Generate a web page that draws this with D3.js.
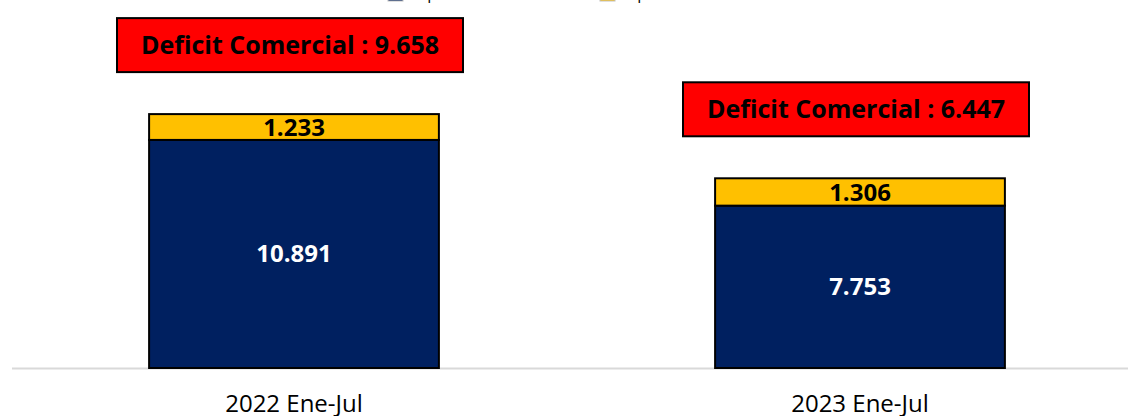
<!DOCTYPE html>
<html>
<head>
<meta charset="utf-8">
<script src="https://cdn.jsdelivr.net/npm/d3@7"></script>
<style>
  body { margin: 0; background: #fff; }
  svg { display: block; font-family: "Open Sans", sans-serif; }
</style>
</head>
<body>
<div id="chart"></div>
<script>
// Datos (millones)
const periodos = ["2022 Ene-Jul", "2023 Ene-Jul"];
const importaciones = [10891, 7753];
const exportaciones = [1233, 1306];
const deficit = [9658, 6447];
const series = ["Importaciones", "Exportaciones"];

const W = 1128, H = 416;
const fmt = v => d3.format(",")(v).replace(/,/g, ".");

const svg = d3.select("#chart").append("svg")
    .attr("width", W)
    .attr("height", H);

const x = d3.scaleBand()
    .domain(periodos)
    .range([11, 1143])
    .paddingInner(0.488)
    .paddingOuter(0.244);

const y = d3.scaleLinear()
    .domain([0, 17000])
    .range([368, 12]);

const color = d3.scaleOrdinal().domain(series).range(["#002060", "#ffc000"]);

// Leyenda (cortada en la parte superior, como en el original)
const leg = svg.append("g");
const legX = [388, 600];
series.forEach((s, i) => {
    leg.append("rect")
        .attr("x", legX[i]).attr("y", -14)
        .attr("width", 15).attr("height", 15)
        .attr("fill", color(s))
        .attr("stroke", "#bfbfbf");
    leg.append("text")
        .attr("x", legX[i] + 20).attr("y", -1)
        .attr("font-size", 16)
        .attr("fill", "#000")
        .text(s);
});

// Eje
svg.append("line")
    .attr("x1", 12).attr("x2", W)
    .attr("y1", y(0) + 0.5).attr("y2", y(0) + 0.5)
    .attr("stroke", "#d9d9d9")
    .attr("stroke-width", 2);

const g = svg.append("g");

// Importaciones (base)
g.selectAll(".imp")
    .data(periodos)
    .join("rect")
    .attr("x", d => x(d))
    .attr("y", (d, i) => y(importaciones[i]))
    .attr("width", x.bandwidth())
    .attr("height", (d, i) => y(0) - y(importaciones[i]))
    .attr("fill", color("Importaciones"))
    .attr("stroke", "#000")
    .attr("stroke-width", 2);

// Exportaciones (encima)
g.selectAll(".exp")
    .data(periodos)
    .join("rect")
    .attr("x", d => x(d))
    .attr("y", (d, i) => y(importaciones[i] + exportaciones[i]))
    .attr("width", x.bandwidth())
    .attr("height", (d, i) => y(importaciones[i]) - y(importaciones[i] + exportaciones[i]))
    .attr("fill", color("Exportaciones"))
    .attr("stroke", "#000")
    .attr("stroke-width", 2);

// Etiquetas de valor
g.selectAll(".lblImp")
    .data(periodos)
    .join("text")
    .attr("x", d => x(d) + x.bandwidth() / 2)
    .attr("y", (d, i) => (y(0) + y(importaciones[i])) / 2)
    .attr("dy", "0.35em")
    .attr("text-anchor", "middle")
    .attr("font-size", 24)
    .attr("font-weight", "bold")
    .attr("fill", "#fff")
    .text((d, i) => fmt(importaciones[i]));

g.selectAll(".lblExp")
    .data(periodos)
    .join("text")
    .attr("x", d => x(d) + x.bandwidth() / 2)
    .attr("y", (d, i) => (y(importaciones[i]) + y(importaciones[i] + exportaciones[i])) / 2)
    .attr("dy", "0.36em")
    .attr("text-anchor", "middle")
    .attr("font-size", 24)
    .attr("font-weight", "bold")
    .attr("fill", "#000")
    .text((d, i) => fmt(exportaciones[i]));

// Cajas de déficit
const boxW = 346, boxH = 54;
const cajas = g.selectAll(".def")
    .data(periodos)
    .join("g")
    .attr("transform", (d, i) => {
        const cx = x(d) + x.bandwidth() / 2 - 4;
        const top = y(importaciones[i] + exportaciones[i]) - 42 - boxH;
        return `translate(${cx - boxW / 2},${top})`;
    });

cajas.append("rect")
    .attr("width", boxW)
    .attr("height", boxH)
    .attr("fill", "#ff0000")
    .attr("stroke", "#000")
    .attr("stroke-width", 2);

cajas.append("text")
    .attr("x", boxW / 2)
    .attr("y", boxH / 2)
    .attr("dy", "0.36em")
    .attr("text-anchor", "middle")
    .attr("font-size", 25)
    .attr("font-weight", "bold")
    .attr("fill", "#000")
    .text((d, i) => `Deficit Comercial : ${fmt(deficit[i])}`);

// Etiquetas del eje x
svg.append("g")
    .selectAll("text")
    .data(periodos)
    .join("text")
    .attr("x", d => x(d) + x.bandwidth() / 2)
    .attr("y", 412)
    .attr("text-anchor", "middle")
    .attr("font-size", 24)
    .attr("fill", "#000")
    .text(d => d);
</script>
</body>
</html>
